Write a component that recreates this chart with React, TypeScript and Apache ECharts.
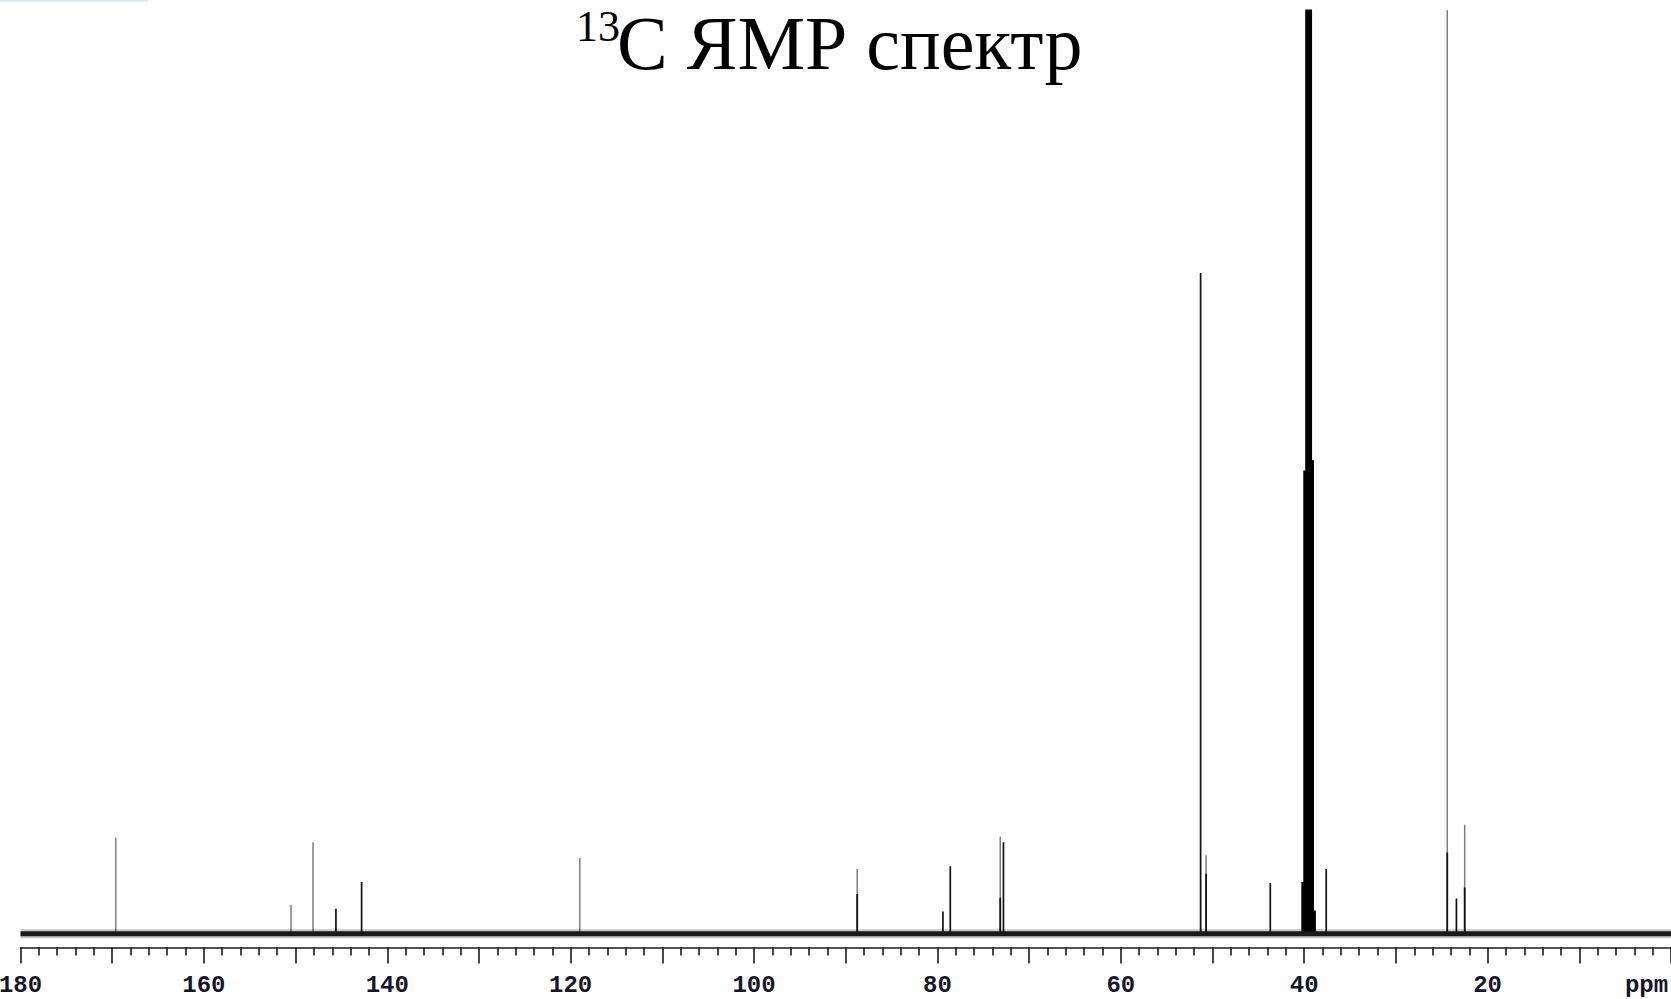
import React, { useEffect, useRef } from "react";
import * as echarts from "echarts";

// Axis (ppm, drawn right-to-left)
const axisMinPpm = 0;
const axisMaxPpm = 180;
const majorTickStep = 10;
const labelStep = 20;
const axisUnit = "ppm";
const titleSup = "13";
const titleMain = "C ЯМР спектр";

// Peaks (ppm, relative height; baseline = 0)
const grayPeakPpm = [169.6, 150.5, 148.1, 119.0, 88.75, 73.15, 50.7, 24.4, 22.5];
const grayPeakHeight = [10.4, 3.1, 9.9, 8.2, 7.0, 10.5, 8.5, 140, 11.8];

const blackPeakPpm = [145.6, 142.8, 79.4, 78.6, 72.8, 51.3, 43.7, 37.6, 23.4];
const blackPeakHeight = [2.7, 5.6, 2.4, 7.3, 9.9, 71.6, 5.5, 7.0, 3.8];

// darker lower parts of some peaks
const peakFootPpm = [88.75, 73.15, 50.7, 24.4, 22.5];
const peakFootHeight = [4.3, 3.9, 6.5, 8.8, 5.0];

// DMSO-d6 septet
const solventPpm = [40.15, 39.94, 39.73, 39.52, 39.31, 39.1, 38.89];
const solventHeight = [5.6, 50.2, 130, 150, 130, 51.3, 2.5];

// baseline
const baselinePpm = [180, 0];
const baselineValue = [0, 0];

function sticks(ppm: number[], h: number[]) {
  const out: number[][] = [];
  ppm.forEach((p, i) => {
    out.push([p, 0], [p, h[i]], [p, 0]);
  });
  return out;
}

export default function App() {
  const ref = useRef<HTMLDivElement>(null);

  useEffect(() => {
    if (!ref.current) return;
    const chart = echarts.init(ref.current, undefined, { renderer: "svg" });
    const tickColor = "#1a1a1a";
    const baseLine = {
      type: "line",
      showSymbol: false,
      symbol: "none",
      silent: true,
      clip: true,
    };
    chart.setOption({
      animation: false,
      backgroundColor: "#ffffff",
      grid: {
        left: 20.5,
        right: 0,
        top: 11,
        bottom: 51.5,
        containLabel: false,
        outerBoundsMode: "none",
      },
      xAxis: {
        type: "value",
        min: axisMinPpm,
        max: axisMaxPpm,
        interval: majorTickStep,
        inverse: true,
        axisLine: { show: true, onZero: false, lineStyle: { color: tickColor, width: 1.6 } },
        axisTick: { show: true, length: 16, lineStyle: { color: tickColor, width: 1.6 } },
        minorTick: { show: true, splitNumber: 5, length: 8, lineStyle: { color: tickColor, width: 1.6 } },
        splitLine: { show: false },
        minorSplitLine: { show: false },
        axisLabel: {
          formatter: (v: number) => (v % labelStep === 0 && v !== axisMinPpm ? String(v) : ""),
          fontFamily: "Liberation Mono",
          fontWeight: "bold",
          fontSize: 24,
          lineHeight: 20,
          color: "#16162a",
          margin: 28,
        },
      },
      yAxis: {
        type: "value",
        min: -1.5,
        max: 100,
        show: false,
      },
      graphic: [
        {
          type: "rect",
          shape: { x: 0, y: 0, width: 148, height: 1.5 },
          style: { fill: "#c5ecf7" },
          silent: true,
        },
        {
          type: "text",
          x: 576,
          y: 26,
          style: {
            text: titleSup,
            font: '44px "Liberation Serif"',
            fill: "#000",
            textAlign: "left",
            textVerticalAlign: "middle",
          },
        },
        {
          type: "text",
          x: 617,
          y: 42.5,
          style: {
            text: titleMain,
            font: '76px "Liberation Serif"',
            fill: "#000",
            textAlign: "left",
            textVerticalAlign: "middle",
          },
        },
        {
          type: "text",
          x: 1646.5,
          y: 985,
          style: {
            text: axisUnit,
            font: 'bold 24px "Liberation Mono"',
            fill: "#16162a",
            textAlign: "center",
            textVerticalAlign: "middle",
          },
        },
      ],
      series: [
        {
          ...baseLine,
          name: "gray",
          data: sticks(grayPeakPpm, grayPeakHeight),
          lineStyle: { color: "#7d7d7d", width: 1.5 },
        },
        {
          ...baseLine,
          name: "black",
          data: sticks(blackPeakPpm, blackPeakHeight),
          lineStyle: { color: "#111111", width: 1.7 },
        },
        {
          ...baseLine,
          name: "foot",
          data: sticks(peakFootPpm, peakFootHeight),
          lineStyle: { color: "#111111", width: 1.8 },
        },
        {
          ...baseLine,
          name: "solvent",
          data: sticks(solventPpm, solventHeight),
          lineStyle: { color: "#000000", width: 3 },
        },
        {
          ...baseLine,
          name: "noiseFringe",
          data: baselinePpm.map((p, i) => [p, baselineValue[i]]),
          lineStyle: { color: "rgba(0,0,0,0.22)", width: 9 },
        },
        {
          ...baseLine,
          name: "baseline",
          data: baselinePpm.map((p, i) => [p, baselineValue[i]]),
          lineStyle: { color: "#1a1a1a", width: 5 },
        },
      ],
    });
    return () => chart.dispose();
  }, []);

  return (
    <div
      ref={ref}
      style={{ position: "absolute", left: 0, top: 0, width: "1671px", height: "999px", background: "#fff" }}
    />
  );
}
